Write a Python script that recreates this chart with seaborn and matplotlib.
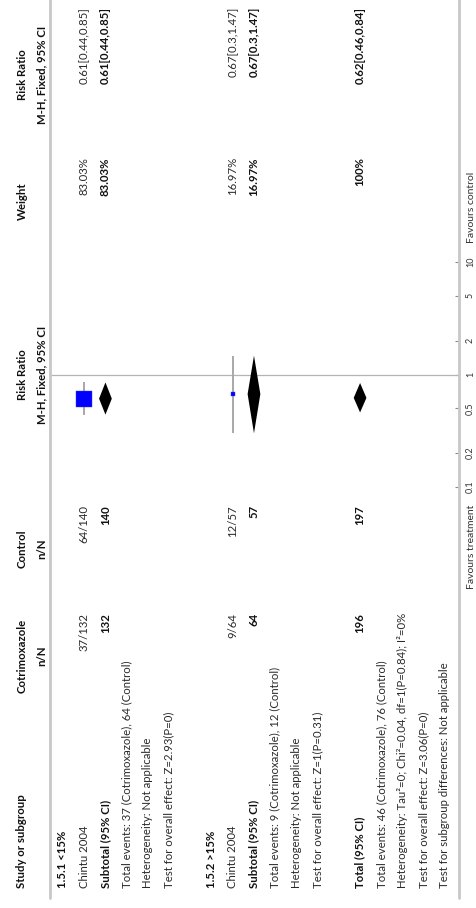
import numpy as np
import pandas as pd
import matplotlib
matplotlib.use("Agg")
import matplotlib.pyplot as plt
import matplotlib.transforms as mtransforms
from matplotlib.lines import Line2D
from matplotlib.ticker import NullLocator
import seaborn as sns

# ---------------- data ----------------
subgroup_labels = ["1.5.1 <15%", "1.5.2 >15%"]
study_names = ["Chintu 2004", "Chintu 2004"]
treat_events = [37, 9]
treat_total = [132, 64]
ctrl_events = [64, 12]
ctrl_total = [140, 57]
study_rr = [0.61, 0.67]
study_lo = [0.44, 0.30]
study_hi = [0.85, 1.47]
study_weight = [83.03, 16.97]
subtotal_rr = [0.61, 0.67]
subtotal_lo = [0.44, 0.30]
subtotal_hi = [0.85, 1.47]
subtotal_weight = [83.03, 16.97]
total_treat = 196
total_ctrl = 197
total_rr = 0.62
total_lo = 0.46
total_hi = 0.84
total_weight = 100
subgroup_events_text = ["Total events: 37 (Cotrimoxazole), 64 (Control)",
                        "Total events: 9 (Cotrimoxazole), 12 (Control)"]
subgroup_het_text = ["Heterogeneity: Not applicable", "Heterogeneity: Not applicable"]
subgroup_test_text = ["Test for overall effect: Z=2.93(P=0)",
                      "Test for overall effect: Z=1(P=0.31)"]
overall_text = ["Total events: 46 (Cotrimoxazole), 76 (Control)",
                "Heterogeneity: Tau\u00b2=0; Chi\u00b2=0.04, df=1(P=0.84); I\u00b2=0%",
                "Test for overall effect: Z=3.06(P=0)",
                "Test for subgroup differences: Not applicable"]
axis_ticks = [0.1, 0.2, 0.5, 1, 2, 5, 10]
axis_tick_labels = ["0.1", "0.2", "0.5", "1", "2", "5", "10"]
favours_labels = ["Favours treatment", "Favours control"]

# ---------------- style ----------------
sns.set_theme(style="white")
plt.rcParams['font.family'] = ['Lato', 'DejaVu Sans']

W, H = 476, 908
fig = plt.figure(figsize=(W / 100, H / 100), dpi=100)
fig.patch.set_facecolor("white")


def fx(px):
    return px / W


def fy(py):
    return 1 - py / H


ROW0, DR = 63.0, 21.22
LEFT_LINE, RIGHT_LINE = 50, 459
ax = fig.add_axes([fx(LEFT_LINE), fy(487), fx(RIGHT_LINE) - fx(LEFT_LINE), (487 - 262) / H])
ax.set_xlim((LEFT_LINE - ROW0) / DR, (RIGHT_LINE - ROW0) / DR)
ax.set_yscale("log")
ax.set_ylim(0.1, 10)
ax.set_facecolor("none")
for s in ax.spines.values():
    s.set_visible(False)
ax.set_xticks([])
ax.yaxis.set_ticks_position("right")
ax.set_yticks(axis_ticks)
ax.yaxis.set_minor_locator(NullLocator())
ax.tick_params(axis="y", direction="in", length=3, width=0.8, color="#8c8c8c",
               right=True, left=False, labelright=False, labelleft=False)

# row indices
study_rows = [7 * g + 1 for g in range(2)]
subtotal_rows = [7 * g + 2 for g in range(2)]
total_row = 14

# null line
ax.axhline(1, color="#b4b4b4", lw=0.9, zorder=1)

# CI lines and squares
ax.vlines(study_rows, study_lo, study_hi, color="#a8a8a8", lw=1.4, zorder=2)
df = pd.DataFrame({"row": study_rows, "rr": study_rr, "weight": study_weight})
sns.scatterplot(data=df, x="row", y="rr", size="weight", sizes=(9, 135),
                size_norm=(min(study_weight), max(study_weight)), marker="s",
                color="#0000ff", edgecolor="#3a3aff", linewidth=0.3,
                legend=False, ax=ax, zorder=3)
ax.set_xlabel("")
ax.set_ylabel("")

# diamonds
HW = 0.3
for r, m, lo, hi in list(zip(subtotal_rows, subtotal_rr, subtotal_lo, subtotal_hi)) + \
        [(total_row, total_rr, total_lo, total_hi)]:
    ax.fill([r - HW, r, r + HW, r], [m, hi, m, lo], color="black", lw=0, zorder=3)

# separator lines
for xl in (LEFT_LINE, RIGHT_LINE):
    fig.add_artist(Line2D([fx(xl), fx(xl)], [fy(0), fy(898)], transform=fig.transFigure,
                          color="#c8c8c8", lw=2.0))

# axis tick labels
tick_tr = mtransforms.blended_transform_factory(ax.transAxes, ax.transData)
axw = RIGHT_LINE - LEFT_LINE
for t, lab in zip(axis_ticks, axis_tick_labels):
    ax.text(1 + 7 / axw, t, lab, transform=tick_tr, rotation=90, ha="left", va="center",
            fontsize=6.5, color="#333333", clip_on=False)

# favours labels
fig.text(fx(471), fy(505), favours_labels[0], rotation=90, ha="center", va="top",
         fontsize=7.5, color="#333333")
fig.text(fx(471), fy(243), favours_labels[1], rotation=90, ha="center", va="bottom",
         fontsize=7.5, color="#333333")

# ---------------- table text ----------------
FS = 8.2
row_tr = mtransforms.blended_transform_factory(ax.transData, fig.transFigure)


def put(r, ypx, s, va, bold=False, size=FS):
    ax.text(r, fy(ypx), s, transform=row_tr, rotation=90, ha="center", va=va,
            fontweight="bold" if bold else "normal", fontsize=size,
            color="#111111" if bold else "#2a2a2a", clip_on=False)


STUDY_Y, TREAT_Y, CTRL_Y, WEIGHT_Y, RRT_Y = 888, 613, 505, 157, 7
H1 = (22 - ROW0) / DR
H2 = (42 - ROW0) / DR

# headers
put(H1, STUDY_Y, "Study or subgroup", "bottom", True)
put(H1, 656, "Cotrimoxazole", "center", True)
put(H2, 656, "n/N", "center", True)
put(H1, 549, "Control", "center", True)
put(H2, 549, "n/N", "center", True)
put(H1, 375, "Risk Ratio", "center", True)
put(H2, 375, "M-H, Fixed, 95% CI", "center", True)
put(H1, 201, "Weight", "center", True)
put(H1, 75, "Risk Ratio", "center", True)
put(H2, 75, "M-H, Fixed, 95% CI", "center", True)


def fnum(v):
    return f"{v:g}"


for g in range(2):
    base = 7 * g
    put(base, STUDY_Y, subgroup_labels[g], "bottom", True)
    r = base + 1
    put(r, STUDY_Y, study_names[g], "bottom")
    put(r, TREAT_Y, f"{treat_events[g]}/{treat_total[g]}", "top")
    put(r, CTRL_Y, f"{ctrl_events[g]}/{ctrl_total[g]}", "top")
    put(r, WEIGHT_Y, f"{fnum(study_weight[g])}%", "top")
    put(r, RRT_Y, f"{fnum(study_rr[g])}[{fnum(study_lo[g])},{fnum(study_hi[g])}]", "top")
    r = base + 2
    put(r, STUDY_Y, "Subtotal (95% CI)", "bottom", True)
    put(r, TREAT_Y, f"{treat_total[g]}", "top", True)
    put(r, CTRL_Y, f"{ctrl_total[g]}", "top", True)
    put(r, WEIGHT_Y, f"{fnum(subtotal_weight[g])}%", "top", True)
    put(r, RRT_Y, f"{fnum(subtotal_rr[g])}[{fnum(subtotal_lo[g])},{fnum(subtotal_hi[g])}]", "top", True)
    put(base + 3, STUDY_Y, subgroup_events_text[g], "bottom")
    put(base + 4, STUDY_Y, subgroup_het_text[g], "bottom")
    put(base + 5, STUDY_Y, subgroup_test_text[g], "bottom")

put(total_row, STUDY_Y, "Total (95% CI)", "bottom", True)
put(total_row, TREAT_Y, f"{total_treat}", "top", True)
put(total_row, CTRL_Y, f"{total_ctrl}", "top", True)
put(total_row, WEIGHT_Y, f"{fnum(total_weight)}%", "top", True)
put(total_row, RRT_Y, f"{fnum(total_rr)}[{fnum(total_lo)},{fnum(total_hi)}]", "top", True)
for i, s in enumerate(overall_text):
    put(total_row + 1 + i, STUDY_Y, s, "bottom")

fig.savefig("out.png", dpi=100, facecolor="white")
